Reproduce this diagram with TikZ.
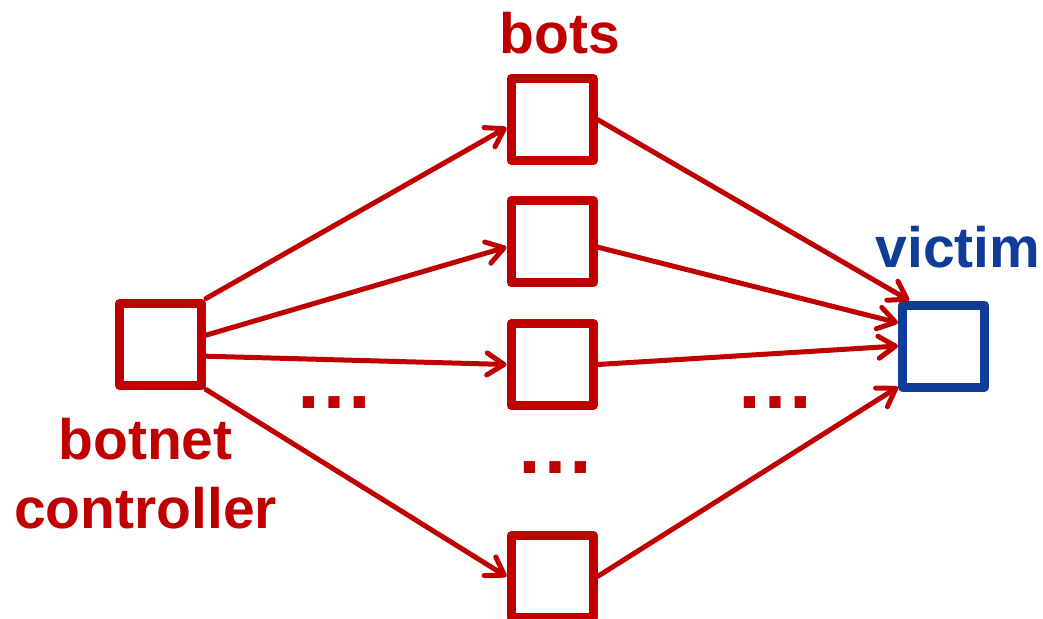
\documentclass[tikz,border=0pt]{standalone}
\usepackage{fontspec}
\setmainfont{Liberation Sans}
\usetikzlibrary{arrows.meta, positioning}

\definecolor{botred}{RGB}{192,0,0}
\definecolor{victimblue}{RGB}{14,60,150}

\begin{document}
\begin{tikzpicture}[
            x=0.5pt, y=-0.5pt,
            node distance = 16pt,
            hostbox/.style={draw=botred, line width=4.5pt, line join=round,
                shape=rectangle, minimum size=41pt, inner sep=0pt, fill=white},
            lbl/.style={text=botred, inner sep=0pt,
                font=\fontsize{28.5}{34.5}\selectfont\bfseries},
            dots/.style={text=botred, inner sep=0pt, anchor=base,
                font=\fontsize{40}{48}\selectfont\bfseries},
            link/.style={draw=botred, line width=2.5pt, line cap=round,
                -{Straight Barb[length=8.5pt, width=11pt, round]}}
        ]

        \useasboundingbox[fill=white] (0,0) rectangle (1043,618);

        % controller, bots and victim
        \node[hostbox] (ctrl) at (160.5,344) {};
        \node[hostbox] (bot1) at (552,119.5) {};
        \node[hostbox] (bot2) [below=15.5pt of bot1] {};
        \node[hostbox] (bot3) [below=16pt of bot2] {};
        \node[hostbox] (bot4) [below=60.5pt of bot3] {};
        \node[hostbox, draw=victimblue] (victim) at (943.5,346) {};

        % labels
        \node[lbl, anchor=base] (botslbl) at (560,53) {bots};
        \node[lbl, anchor=base, text=victimblue] (victimlbl) at (958,267) {victim};
        \node[lbl, anchor=base, align=center] (ctrllbl) at (145.5,528) {botnet\\controller};

        % more bots not drawn
        \node[dots] (dotsleft) at (334.5,408) {…};
        \node[dots] (dotsmid) at (555.5,473) {…};
        \node[dots] (dotsright) at (775.5,408) {…};

        % commands to the bots
        \path[link] (ctrl.north east) -- (bot1.190);
        \path[link] (ctrl.11) -- (bot2.187);
        \path[link] (ctrl.345) -- (bot3.west);
        \path[link] (ctrl.south east) -- (bot4.west);

        % attack on the victim
        \path[link] (bot1.east) -- (victim.127);
        \path[link] (bot2.353) -- (victim.153);
        \path[link] (bot3.east) -- (victim.west);
        \path[link] (bot4.east) -- (victim.222);

    \end{tikzpicture}
\end{document}
